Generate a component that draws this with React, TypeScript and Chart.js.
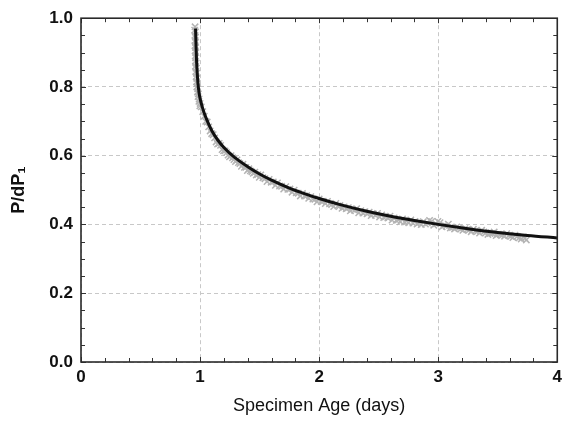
import React, { useEffect, useRef } from "react";
import { Chart, registerables } from "chart.js";

Chart.register(...registerables);

// Fitted curve
const fitX = [0.962, 0.966, 0.970, 0.976, 0.985, 0.998, 1.02, 1.05, 1.10, 1.15, 1.20, 1.29, 1.40, 1.50, 1.60, 1.75, 1.90, 2.00, 2.20, 2.40, 2.60, 2.80, 3.00, 3.25, 3.50, 3.75, 4.00];
const fitY = [0.970, 0.920, 0.880, 0.840, 0.800, 0.770, 0.740, 0.710, 0.672, 0.645, 0.624, 0.595, 0.568, 0.547, 0.529, 0.506, 0.487, 0.4755, 0.4555, 0.4385, 0.424, 0.4115, 0.4003, 0.3878, 0.3768, 0.368, 0.361];

// Measured data (gray crosses), first pass
const dataX = [
  0.958, 0.962, 0.960, 0.963, 0.961, 0.965, 0.963, 0.967, 0.966, 0.970, 0.972, 0.976, 0.980, 0.985, 0.992, 1.000,
  1.010, 1.035, 1.060, 1.085, 1.110, 1.135, 1.160, 1.185, 1.210, 1.235, 1.260, 1.285, 1.310, 1.335, 1.360, 1.385,
  1.410, 1.435, 1.460, 1.485, 1.510, 1.545, 1.580, 1.615, 1.650, 1.685, 1.720, 1.755, 1.790, 1.825, 1.860, 1.895,
  1.930, 1.965, 2.000, 2.035, 2.070, 2.105, 2.140, 2.175, 2.210, 2.245, 2.280, 2.315, 2.350, 2.385, 2.420, 2.455,
  2.490, 2.525, 2.560, 2.595, 2.630, 2.665, 2.700, 2.735, 2.770, 2.805, 2.840, 2.875, 2.910, 2.945, 2.980, 3.015,
  3.050, 3.085, 3.120, 3.155, 3.190, 3.225, 3.260, 3.295, 3.330, 3.365, 3.400, 3.435, 3.470, 3.505, 3.540, 3.575,
  3.610, 3.645, 3.680, 3.715, 3.740
];
const dataY = [
  0.975, 0.960, 0.945, 0.930, 0.915, 0.900, 0.885, 0.870, 0.855, 0.840, 0.825, 0.810, 0.795, 0.780, 0.765, 0.752,
  0.742, 0.715, 0.698, 0.672, 0.661, 0.640, 0.636, 0.618, 0.614, 0.602, 0.600, 0.589, 0.588, 0.577, 0.575, 0.566,
  0.562, 0.553, 0.552, 0.545, 0.544, 0.533, 0.531, 0.524, 0.521, 0.511, 0.510, 0.503, 0.500, 0.491, 0.490, 0.484,
  0.481, 0.473, 0.474, 0.468, 0.467, 0.458, 0.461, 0.455, 0.451, 0.449, 0.444, 0.446, 0.440, 0.437, 0.436, 0.431,
  0.432, 0.428, 0.423, 0.424, 0.419, 0.414, 0.416, 0.410, 0.413, 0.409, 0.406, 0.408, 0.404, 0.409, 0.402, 0.405,
  0.398, 0.401, 0.391, 0.393, 0.387, 0.388, 0.384, 0.386, 0.380, 0.383, 0.376, 0.374, 0.378, 0.372, 0.370, 0.373,
  0.366, 0.369, 0.361, 0.364, 0.355
];

// Measured data (gray crosses), second pass
const data2X = [
  0.955, 0.957, 0.958, 0.957, 0.960, 0.959, 0.962, 0.961, 0.964, 0.967, 0.970, 0.973, 0.978, 0.983, 0.990, 0.998,
  1.0225, 1.0475, 1.0725, 1.0975, 1.1225, 1.1475, 1.1725, 1.1975, 1.2225, 1.2475, 1.2725, 1.2975, 1.3225, 1.3475,
  1.3725, 1.3975, 1.4225, 1.4475, 1.4725, 1.4975, 1.5275, 1.5625, 1.5975, 1.6325, 1.6675, 1.7025, 1.7375, 1.7725,
  1.8075, 1.8425, 1.8775, 1.9125, 1.9475, 1.9825, 2.0175, 2.0525, 2.0875, 2.1225, 2.1575, 2.1925, 2.2275, 2.2625,
  2.2975, 2.3325, 2.3675, 2.4025, 2.4375, 2.4725, 2.5075, 2.5425, 2.5775, 2.6125, 2.6475, 2.6825, 2.7175, 2.7525,
  2.7875, 2.8225, 2.8575, 2.8925, 2.9275, 2.9625, 2.9975, 3.0325, 3.0675, 3.1025, 3.1375, 3.1725, 3.2075, 3.2425,
  3.2775, 3.3125, 3.3475, 3.3825, 3.4175, 3.4525, 3.4875, 3.5225, 3.5575, 3.5925, 3.6275, 3.6625, 3.6975, 3.7275
];
const data2Y = [
  0.965, 0.950, 0.935, 0.920, 0.905, 0.890, 0.875, 0.860, 0.845, 0.830, 0.815, 0.800, 0.785, 0.772, 0.758, 0.745,
  0.728, 0.700, 0.684, 0.664, 0.652, 0.634, 0.630, 0.614, 0.609, 0.597, 0.594, 0.583, 0.580, 0.569,
  0.566, 0.557, 0.556, 0.549, 0.544, 0.537, 0.536, 0.525, 0.523, 0.514, 0.512, 0.503, 0.502, 0.494,
  0.492, 0.483, 0.483, 0.476, 0.474, 0.466, 0.467, 0.461, 0.460, 0.452, 0.454, 0.447, 0.446, 0.440,
  0.441, 0.434, 0.433, 0.431, 0.426, 0.427, 0.422, 0.420, 0.419, 0.413, 0.412, 0.408, 0.407, 0.405,
  0.404, 0.401, 0.400, 0.401, 0.412, 0.398, 0.409, 0.393, 0.395, 0.390, 0.387, 0.390, 0.383, 0.385,
  0.379, 0.381, 0.375, 0.378, 0.371, 0.374, 0.368, 0.371, 0.366, 0.368, 0.362, 0.365, 0.358, 0.360
];

const xMin = 0, xMax = 4, xStep = 1, xMinorStep = 0.2;
const yMin = 0, yMax = 1, yStep = 0.2, yMinorStep = 0.05;

const xTitle = "Specimen Age (days)";
const yTitle = "P/dP\u2081";

const FONT = "'Liberation Sans', Arial, Helvetica, sans-serif";

const framePlugin = {
  id: "frameTicks",
  afterDraw(chart: any) {
    const { ctx, chartArea: a, scales } = chart;
    const x = scales.x, y = scales.y;
    ctx.save();
    ctx.strokeStyle = "#333";
    ctx.lineWidth = 1;
    ctx.beginPath();
    const nx = Math.round((xMax - xMin) / xMinorStep);
    for (let i = 0; i <= nx; i++) {
      const v = xMin + i * xMinorStep;
      const px = Math.round(x.getPixelForValue(v)) + 0.5;
      const len = i % Math.round(xStep / xMinorStep) === 0 ? 5 : 4;
      ctx.moveTo(px, a.bottom); ctx.lineTo(px, a.bottom - len);
      ctx.moveTo(px, a.top); ctx.lineTo(px, a.top + len);
    }
    const ny = Math.round((yMax - yMin) / yMinorStep);
    for (let i = 0; i <= ny; i++) {
      const v = yMin + i * yMinorStep;
      const py = Math.round(y.getPixelForValue(v)) + 0.5;
      const len = i % Math.round(yStep / yMinorStep) === 0 ? 5 : 4;
      ctx.moveTo(a.left, py); ctx.lineTo(a.left + len, py);
      ctx.moveTo(a.right, py); ctx.lineTo(a.right - len, py);
    }
    ctx.stroke();
    ctx.lineWidth = 1.6;
    ctx.strokeStyle = "#2a2a2a";
    ctx.strokeRect(a.left, a.top, a.right - a.left, a.bottom - a.top);
    ctx.restore();
  },
};

export default function App() {
  const ref = useRef<HTMLCanvasElement>(null);
  useEffect(() => {
    if (!ref.current) return;
    const fit = fitX.map((v, i) => ({ x: v, y: fitY[i] }));
    const pts = dataX.map((v, i) => ({ x: v, y: dataY[i] }))
      .concat(data2X.map((v, i) => ({ x: v, y: data2Y[i] })));
    const chart = new Chart(ref.current, {
      type: "scatter",
      data: {
        datasets: [
          {
            label: "fit",
            data: fit,
            showLine: true,
            pointRadius: 0,
            borderColor: "#111",
            borderWidth: 3,
            cubicInterpolationMode: "monotone",
            order: 0,
          } as any,
          {
            label: "data",
            data: pts,
            pointStyle: "crossRot",
            pointRadius: 4.5,
            borderColor: "#b4b4b4",
            backgroundColor: "#b4b4b4",
            borderWidth: 1.5,
            order: 1,
          } as any,
        ],
      },
      options: {
        responsive: false,
        animation: false,
        layout: { padding: { top: 16, right: 5, left: 0, bottom: 0 } },
        plugins: { legend: { display: false }, tooltip: { enabled: false } },
        scales: {
          x: {
            type: "linear",
            min: xMin,
            max: xMax,
            grid: { color: "#c8c8c8", lineWidth: 1, drawTicks: false },
            border: { display: false, dash: [4, 3] },
            ticks: {
              stepSize: xStep,
              padding: 5,
              color: "#111",
              font: { family: FONT, size: 17, weight: "bold" },
            },
            title: {
              display: true,
              text: xTitle,
              color: "#111",
              font: { family: FONT, size: 18 },
              padding: { top: 0, bottom: 5 },
            },
            afterFit(scale: any) { scale.height = 60; },
          },
          y: {
            type: "linear",
            min: yMin,
            max: yMax,
            grid: { color: "#c8c8c8", lineWidth: 1, drawTicks: false },
            border: { display: false, dash: [4, 3] },
            ticks: {
              stepSize: yStep,
              padding: 8,
              color: "#111",
              font: { family: FONT, size: 17, weight: "bold" },
              callback: (v: any) => Number(v).toFixed(1),
            },
            title: {
              display: true,
              text: yTitle,
              color: "#111",
              font: { family: FONT, size: 18, weight: "bold" },
              padding: { top: 8, bottom: 0 },
            },
            afterFit(scale: any) { scale.width = 81; },
          },
        },
      },
      plugins: [framePlugin],
    });
    return () => chart.destroy();
  }, []);
  return (
    <div style={{ position: "absolute", left: 0, top: 0, width: 567, height: 422, background: "#fff" }}>
      <canvas ref={ref} width={567} height={422} style={{ display: "block" }} />
    </div>
  );
}
